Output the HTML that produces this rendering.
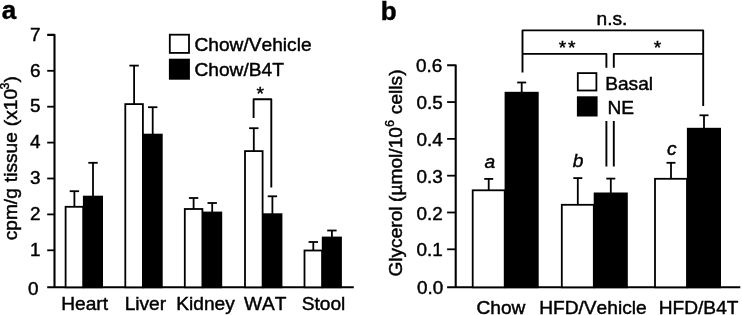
<!DOCTYPE html>
<html><head><meta charset="utf-8"><title>figure</title>
<style>
html,body{margin:0;padding:0;background:#fff;}
svg{display:block;font-family:"Liberation Sans",sans-serif;fill:#000;font-kerning:none;}
text{stroke:#000;stroke-width:0.45px;}
</style></head>
<body>
<svg width="742" height="315" viewBox="0 0 742 315">
<rect x="0" y="0" width="742" height="315" fill="#fff" stroke="none"/>
<g>
<text x="1.8" y="19.3" font-size="26" text-anchor="start" font-weight="bold">a</text>
<path d="M47.2 34.9 H54.5 V287.3" fill="none" stroke-linejoin="round" stroke="#000" stroke-width="2.1"/>
<line x1="47.2" y1="287.3" x2="353.8" y2="287.3" stroke="#000" stroke-width="2.1"/>
<text x="38.6" y="295.3" font-size="18.9" text-anchor="end" >0</text>
<line x1="47.2" y1="250.3" x2="54.5" y2="250.3" stroke="#000" stroke-width="1.8"/>
<text x="40.6" y="256.0" font-size="18.9" text-anchor="end" >1</text>
<line x1="47.2" y1="214.4" x2="54.5" y2="214.4" stroke="#000" stroke-width="1.8"/>
<text x="40.6" y="220.1" font-size="18.9" text-anchor="end" >2</text>
<line x1="47.2" y1="178.5" x2="54.5" y2="178.5" stroke="#000" stroke-width="1.8"/>
<text x="40.6" y="184.2" font-size="18.9" text-anchor="end" >3</text>
<line x1="47.2" y1="142.6" x2="54.5" y2="142.6" stroke="#000" stroke-width="1.8"/>
<text x="40.6" y="148.3" font-size="18.9" text-anchor="end" >4</text>
<line x1="47.2" y1="106.7" x2="54.5" y2="106.7" stroke="#000" stroke-width="1.8"/>
<text x="40.6" y="112.4" font-size="18.9" text-anchor="end" >5</text>
<line x1="47.2" y1="70.8" x2="54.5" y2="70.8" stroke="#000" stroke-width="1.8"/>
<text x="40.6" y="76.5" font-size="18.9" text-anchor="end" >6</text>
<text x="40.6" y="40.6" font-size="18.9" text-anchor="end" >7</text>
<line x1="74.4" y1="191.2" x2="74.4" y2="206.8" stroke="#000" stroke-width="1.8"/>
<line x1="69.7" y1="191.2" x2="79.1" y2="191.2" stroke="#000" stroke-width="1.8"/>
<line x1="93.0" y1="162.8" x2="93.0" y2="196.6" stroke="#000" stroke-width="1.8"/>
<line x1="88.3" y1="162.8" x2="97.7" y2="162.8" stroke="#000" stroke-width="1.8"/>
<rect x="65.6" y="206.8" width="17.60" height="80.50" fill="#fff" stroke="#000" stroke-width="1.8"/>
<rect x="83.8" y="196.6" width="18.30" height="90.70" fill="#000" stroke="#000" stroke-width="1.8"/>
<line x1="134.1" y1="65.6" x2="134.1" y2="104.1" stroke="#000" stroke-width="1.8"/>
<line x1="129.4" y1="65.6" x2="138.8" y2="65.6" stroke="#000" stroke-width="1.8"/>
<line x1="152.7" y1="107.2" x2="152.7" y2="134.6" stroke="#000" stroke-width="1.8"/>
<line x1="148.0" y1="107.2" x2="157.4" y2="107.2" stroke="#000" stroke-width="1.8"/>
<rect x="125.3" y="104.1" width="17.60" height="183.20" fill="#fff" stroke="#000" stroke-width="1.8"/>
<rect x="143.5" y="134.6" width="18.30" height="152.70" fill="#000" stroke="#000" stroke-width="1.8"/>
<line x1="193.6" y1="198.0" x2="193.6" y2="209.0" stroke="#000" stroke-width="1.8"/>
<line x1="188.9" y1="198.0" x2="198.3" y2="198.0" stroke="#000" stroke-width="1.8"/>
<line x1="212.2" y1="203.0" x2="212.2" y2="212.5" stroke="#000" stroke-width="1.8"/>
<line x1="207.5" y1="203.0" x2="216.9" y2="203.0" stroke="#000" stroke-width="1.8"/>
<rect x="184.8" y="209.0" width="17.60" height="78.30" fill="#fff" stroke="#000" stroke-width="1.8"/>
<rect x="203.0" y="212.5" width="18.30" height="74.80" fill="#000" stroke="#000" stroke-width="1.8"/>
<line x1="253.8" y1="128.2" x2="253.8" y2="151.1" stroke="#000" stroke-width="1.8"/>
<line x1="249.1" y1="128.2" x2="258.5" y2="128.2" stroke="#000" stroke-width="1.8"/>
<line x1="272.4" y1="196.3" x2="272.4" y2="214.2" stroke="#000" stroke-width="1.8"/>
<line x1="267.7" y1="196.3" x2="277.1" y2="196.3" stroke="#000" stroke-width="1.8"/>
<rect x="245.0" y="151.1" width="17.60" height="136.20" fill="#fff" stroke="#000" stroke-width="1.8"/>
<rect x="263.2" y="214.2" width="18.30" height="73.10" fill="#000" stroke="#000" stroke-width="1.8"/>
<line x1="313.3" y1="242.0" x2="313.3" y2="250.5" stroke="#000" stroke-width="1.8"/>
<line x1="308.6" y1="242.0" x2="318.0" y2="242.0" stroke="#000" stroke-width="1.8"/>
<line x1="331.9" y1="230.5" x2="331.9" y2="237.5" stroke="#000" stroke-width="1.8"/>
<line x1="327.2" y1="230.5" x2="336.6" y2="230.5" stroke="#000" stroke-width="1.8"/>
<rect x="304.5" y="250.5" width="17.60" height="36.80" fill="#fff" stroke="#000" stroke-width="1.8"/>
<rect x="322.7" y="237.5" width="18.30" height="49.80" fill="#000" stroke="#000" stroke-width="1.8"/>
<path d="M253.6 118 V99.3 H271.3 V187.6" fill="none" stroke-linejoin="round" stroke="#000" stroke-width="1.9"/>
<text x="260.3" y="100.4" font-size="19.15" text-anchor="middle" >*</text>
<rect x="169.8" y="34.7" width="19.20" height="18.20" fill="#fff" stroke="#000" stroke-width="1.8"/>
<rect x="169.8" y="59.6" width="19.20" height="19.20" fill="#000" stroke="#000" stroke-width="1.8"/>
<text x="194.5" y="51.3" font-size="19.15" text-anchor="start" >Chow/Vehicle</text>
<text x="194.5" y="75.9" font-size="19.15" text-anchor="start" >Chow/B4T</text>
<text x="84.6" y="310.4" font-size="19.15" text-anchor="middle" >Heart</text>
<text x="145.4" y="310.4" font-size="19.15" text-anchor="middle" >Liver</text>
<text x="205.5" y="310.4" font-size="19.15" text-anchor="middle" >Kidney</text>
<text x="265.2" y="310.4" font-size="19.15" text-anchor="middle" >WAT</text>
<text x="323.5" y="310.4" font-size="19.15" text-anchor="middle" >Stool</text>
<text transform="translate(17.2,240.3) rotate(-90)" font-size="19.15" word-spacing="0.7">cpm/g tissue (x10<tspan font-size="12.3" dy="-8.7" dx="-0.5">3</tspan><tspan dy="8.7">)</tspan></text>
<text x="380.7" y="19.9" font-size="26" text-anchor="start" font-weight="bold">b</text>
<path d="M447.1 65.25 H455.7 V287.3" fill="none" stroke-linejoin="round" stroke="#000" stroke-width="2.1"/>
<line x1="447.1" y1="287.3" x2="740.3" y2="287.3" stroke="#000" stroke-width="2.1"/>
<text x="443.2" y="294.4" font-size="18.9" text-anchor="end" >0.0</text>
<line x1="447.1" y1="249.3" x2="455.7" y2="249.3" stroke="#000" stroke-width="1.8"/>
<text x="442.8" y="256.4" font-size="18.9" text-anchor="end" >0.1</text>
<line x1="447.1" y1="212.49" x2="455.7" y2="212.49" stroke="#000" stroke-width="1.8"/>
<text x="442.8" y="219.59" font-size="18.9" text-anchor="end" >0.2</text>
<line x1="447.1" y1="175.68" x2="455.7" y2="175.68" stroke="#000" stroke-width="1.8"/>
<text x="442.8" y="182.78" font-size="18.9" text-anchor="end" >0.3</text>
<line x1="447.1" y1="138.87" x2="455.7" y2="138.87" stroke="#000" stroke-width="1.8"/>
<text x="442.8" y="145.97" font-size="18.9" text-anchor="end" >0.4</text>
<line x1="447.1" y1="102.06" x2="455.7" y2="102.06" stroke="#000" stroke-width="1.8"/>
<text x="442.8" y="109.16" font-size="18.9" text-anchor="end" >0.5</text>
<text x="442.2" y="71.9" font-size="18.9" text-anchor="end" >0.6</text>
<line x1="488.7" y1="178.9" x2="488.7" y2="190.3" stroke="#000" stroke-width="1.8"/>
<line x1="484.2" y1="178.9" x2="493.2" y2="178.9" stroke="#000" stroke-width="1.8"/>
<line x1="521.7" y1="82.5" x2="521.7" y2="92.7" stroke="#000" stroke-width="1.8"/>
<line x1="517.2" y1="82.5" x2="526.2" y2="82.5" stroke="#000" stroke-width="1.8"/>
<rect x="472.7" y="190.3" width="32.00" height="97.00" fill="#fff" stroke="#000" stroke-width="1.8"/>
<rect x="505.5" y="92.7" width="32.30" height="194.60" fill="#000" stroke="#000" stroke-width="1.8"/>
<line x1="577.8" y1="178.1" x2="577.8" y2="204.8" stroke="#000" stroke-width="1.8"/>
<line x1="573.3" y1="178.1" x2="582.3" y2="178.1" stroke="#000" stroke-width="1.8"/>
<line x1="610.8" y1="178.6" x2="610.8" y2="193.4" stroke="#000" stroke-width="1.8"/>
<line x1="606.3" y1="178.6" x2="615.3" y2="178.6" stroke="#000" stroke-width="1.8"/>
<rect x="561.8" y="204.8" width="32.00" height="82.50" fill="#fff" stroke="#000" stroke-width="1.8"/>
<rect x="594.6" y="193.4" width="32.30" height="93.90" fill="#000" stroke="#000" stroke-width="1.8"/>
<line x1="671.0" y1="162.8" x2="671.0" y2="178.8" stroke="#000" stroke-width="1.8"/>
<line x1="666.5" y1="162.8" x2="675.5" y2="162.8" stroke="#000" stroke-width="1.8"/>
<line x1="704.0" y1="115.3" x2="704.0" y2="128.7" stroke="#000" stroke-width="1.8"/>
<line x1="699.5" y1="115.3" x2="708.5" y2="115.3" stroke="#000" stroke-width="1.8"/>
<rect x="655.0" y="178.8" width="32.00" height="108.50" fill="#fff" stroke="#000" stroke-width="1.8"/>
<rect x="687.8" y="128.7" width="32.30" height="158.60" fill="#000" stroke="#000" stroke-width="1.8"/>
<path d="M522.5 72.4 V30.4 H703.2 V105.9" fill="none" stroke-linejoin="round" stroke="#000" stroke-width="1.9"/>
<path d="M522.5 53.9 H606.4 V67.8" fill="none" stroke-linejoin="round" stroke="#000" stroke-width="1.9"/>
<path d="M703.2 53.9 H613.8 V67.8" fill="none" stroke-linejoin="round" stroke="#000" stroke-width="1.9"/>
<path d="M606.4 121 V166.4 M613.8 121 V166.4" fill="none" stroke-linejoin="round" stroke="#000" stroke-width="1.9"/>
<text x="612" y="24.6" font-size="19.15" text-anchor="middle" >n.s.</text>
<text x="567.9" y="54.2" font-size="19.15" text-anchor="middle" letter-spacing="1.6">**</text>
<text x="657.4" y="54.2" font-size="19.15" text-anchor="middle" >*</text>
<rect x="577.8" y="73.1" width="18.60" height="17.40" fill="#fff" stroke="#000" stroke-width="1.8"/>
<rect x="577.8" y="97.2" width="18.90" height="18.40" fill="#000" stroke="#000" stroke-width="1.8"/>
<text x="605.2" y="89.7" font-size="19.15" text-anchor="start" >Basal</text>
<text x="607.5" y="113.7" font-size="19.15" text-anchor="start" >NE</text>
<text x="489.8" y="168.0" font-size="19.15" text-anchor="middle" font-style="italic">a</text>
<text x="578.2" y="167.2" font-size="19.15" text-anchor="middle" font-style="italic">b</text>
<text x="671.8" y="154.6" font-size="19.15" text-anchor="middle" font-style="italic">c</text>
<text x="500.9" y="314.2" font-size="19.15" text-anchor="middle" >Chow</text>
<text x="592.9" y="314.2" font-size="19.15" text-anchor="middle" >HFD/Vehicle</text>
<text x="698.6" y="314.2" font-size="19.15" text-anchor="middle" >HFD/B4T</text>
<text transform="translate(401.6,276.6) rotate(-90)" font-size="19.15">Glycerol<tspan dx="-0.8"> (µmol/10</tspan><tspan font-size="12.5" dy="-7.7">6</tspan><tspan dy="7.7" dx="0.6"> cells)</tspan></text>
</g>
</svg>
</body></html>
